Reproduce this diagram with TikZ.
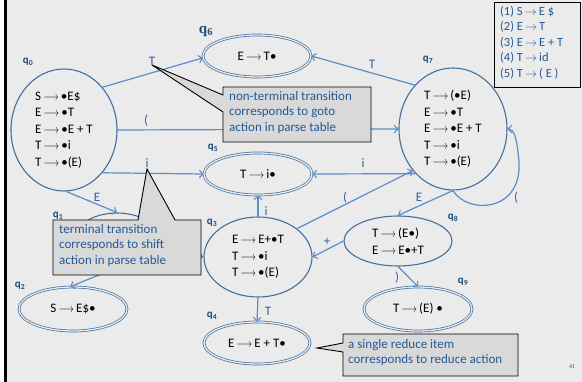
\documentclass[tikz,border=0pt]{standalone}
\usepackage{fontspec}
\setmainfont{Carlito}
\newfontfamily\qserif{Liberation Serif}
\newfontfamily\pgserif{Liberation Serif}
\usetikzlibrary{shapes.geometric,arrows.meta}

\definecolor{slidebg}{HTML}{EBEBEB}
\definecolor{stateline}{HTML}{41709F}
\definecolor{edgeblue}{HTML}{5B8CCB}
\definecolor{labelblue}{HTML}{2F63A0}
\definecolor{qblue}{HTML}{1F4E79}
\definecolor{calloutfill}{HTML}{D9D9D9}
\definecolor{callouttext}{HTML}{245A96}

% arrow used inside the LR items
\newcommand\itemarrow{\,\scalebox{0.8}[1]{$\longrightarrow$}\,}
% arrow used in the grammar list
\newcommand\rulearrow{\,$\rightarrow$\,}
\newcommand\dotmark{•}

\begin{document}
\begin{tikzpicture}[x=1pt,y=-1pt,
  statefont/.style={font=\fontsize{13}{16.5}\selectfont},
  lrstate/.style={ellipse, draw=stateline, line width=1.1pt, fill=slidebg,
    inner sep=0pt, align=left, text=black, statefont},
  accept/.style={lrstate, line width=0.7pt, double=slidebg, double distance=1.3pt},
  trans/.style={draw=edgeblue, line width=1.2pt,
    -{Straight Barb[length=3.5pt,width=7.5pt,line width=1.1pt]}},
  lab/.style={text=labelblue, inner sep=0pt, font=\fontsize{13}{15}\selectfont},
  qlab/.style={text=qblue, inner sep=0pt, font=\fontsize{11}{12}\selectfont\bfseries},
  callout/.style={draw=black, line width=0.9pt, fill=calloutfill},
  callouttxt/.style={text=callouttext, inner sep=0pt, align=left, anchor=north west,
    font=\fontsize{13}{15.7}\selectfont},
]
\useasboundingbox (0,0) rectangle (582,382);
% slide background and left rule
\fill[white] (0,0) rectangle (582,382);
\fill[slidebg] (7,0) rectangle (582,382);
\fill[black] (4,0) rectangle (6.8,382);

% grammar list
\node[draw=black, line width=1pt, minimum width=86pt, minimum height=85pt, anchor=north west] (gbox) at (494,2) {};
\node[text=callouttext, inner sep=0pt, align=left, anchor=north west,
  font=\fontsize{12.5}{15.5}\selectfont] (grammar) at (500,6)
  {(1) S\rulearrow E \$\\(2) E\rulearrow T\\(3) E\rulearrow E + T\\(4) T\rulearrow id\\(5) T\rulearrow ( E )};

% LR(0) states
\node[lrstate, minimum width=106pt, minimum height=122pt] (q0) at (64,130)
  {S\itemarrow\dotmark E\$\\E\itemarrow\dotmark T\\E\itemarrow\dotmark E + T\\T\itemarrow\dotmark i\\T\itemarrow\dotmark(E)};
\node[lrstate, minimum width=90pt, minimum height=60pt] (q1) at (117,243) {};
\node[accept, minimum width=108pt, minimum height=44pt] (q2) at (73,309) {S\itemarrow E\$\dotmark};
\node[lrstate, minimum width=108pt, minimum height=80pt] (q3) at (258,257)
  {E\itemarrow E+\dotmark T\\T\itemarrow\dotmark i\\T\itemarrow\dotmark(E)};
\node[accept, minimum width=106pt, minimum height=42pt] (q4) at (257,343) {E\itemarrow E + T\dotmark};
\node[accept, minimum width=108pt, minimum height=42pt] (q5) at (258,174) {T\itemarrow i\dotmark};
\node[accept, minimum width=108pt, minimum height=42pt] (q6) at (257,56) {E\itemarrow T\dotmark};
\node[lrstate, minimum width=108pt, minimum height=122pt] (q7) at (453,129)
  {T\itemarrow(\dotmark E)\\E\itemarrow\dotmark T\\E\itemarrow\dotmark E + T\\T\itemarrow\dotmark i\\T\itemarrow\dotmark(E)};
\node[lrstate, minimum width=108pt, minimum height=50pt] (q8) at (398,241)
  {T\itemarrow(E\dotmark)\\E\itemarrow E\dotmark+T};
\node[accept, minimum width=108pt, minimum height=44pt] (q9) at (418,309) {T\itemarrow(E) \dotmark};

% state names
\node[qlab] (n0) at (28,62) {q\textsubscript{0}};
\node[qlab] (n1) at (58,216) {q\textsubscript{1}};
\node[qlab] (n2) at (20,286) {q\textsubscript{2}};
\node[qlab] (n3) at (212,223) {q\textsubscript{3}};
\node[qlab] (n4) at (212,316) {q\textsubscript{4}};
\node[qlab] (n5) at (213,148) {q\textsubscript{5}};
\node[text=qblue, inner sep=0pt, font=\fontsize{15}{16}\qserif\bfseries] (n6) at (206,31) {q\textsubscript{6}};
\node[qlab] (n7) at (428,60) {q\textsubscript{7}};
\node[qlab] (n8) at (453,218) {q\textsubscript{8}};
\node[qlab] (n9) at (463,282) {q\textsubscript{9}};

% transitions
\draw[trans] (q0.48) -- (q6.182);
\draw[trans] (q0.east) -- (q7.west);
\draw[trans] (q0.-48) -- (q5.west);
\draw[trans] (q0.-88) -- (q1.north);
\draw[trans] (q1.-112) -- (q2.97);
\draw[trans] (q1.-8) -- (q3.west);
\draw[trans] (q7.131) -- (q6.east);
\draw[trans] (q7.230) -- (q5.east);
\draw[trans] (q3.36) -- (q7.226);
\draw[trans] (q3.north) -- (q5.south);
\draw[trans] (q3.south) -- (q4.north);
\draw[trans] (q8.west) -- (q3.east);
\draw[trans] (q7.south) -- (q8.north);
\draw[trans] (q8.south) -- (q9.north);
\draw[trans] (q7.south) .. controls (468,215) and (522,212) .. (519,162)
  .. controls (517,138) and (514,129) .. (q7.east);

% transition symbols
\node[lab] (tT06) at (152,61) {T};
\node[lab] (tP07) at (146,121) {(};
\node[lab] (ti05) at (147,163) {i};
\node[lab] (tE01) at (97,197) {E};
\node[lab] (tT76) at (372,64) {T};
\node[lab] (ti75) at (363,163) {i};
\node[lab] (tP37) at (345,198) {(};
\node[lab] (ti35) at (266,211) {i};
\node[lab] (tT34) at (268,311) {T};
\node[lab] (tA83) at (327,242) {+};
\node[lab] (tE78) at (419,197) {E};
\node[lab] (tP77) at (516,198) {(};
\node[lab] (tR89) at (397,278) {)};

% remarks
\path[callout] (223,87) -- (371,87) -- (371,142) -- (223,142) -- (223,112)
  -- (152,65) -- (223,95) -- cycle;
\node[callouttxt] (c1) at (229,91) {non-terminal transition\\corresponds to goto\\action in parse table};

\path[callout] (53,220) -- (138,220) -- (147,169) -- (175,220) -- (201,220)
  -- (201,275) -- (53,275) -- cycle;
\node[callouttxt] (c2) at (59,224) {terminal transition\\corresponds to shift\\action in parse table};

\path[callout] (343,334) -- (518,334) -- (518,376) -- (343,376) -- (343,352)
  -- (317,348) -- (343,343) -- cycle;
\node[callouttxt] (c3) at (348,339) {a single reduce item\\corresponds to reduce action};

% page number
\node[text=black!70, inner sep=0pt, font=\fontsize{6}{7}\pgserif] (pg) at (572,367) {41};
\end{tikzpicture}
\end{document}
